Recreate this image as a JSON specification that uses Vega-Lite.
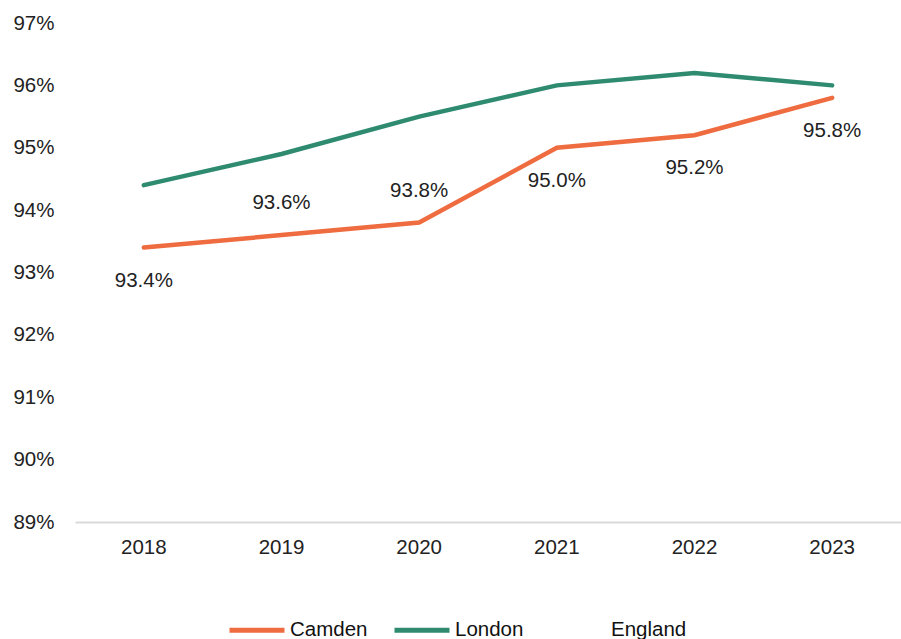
{
  "$schema": "https://vega.github.io/schema/vega-lite/v6.json",
  "width": 826,
  "height": 499,
  "autosize": {"type": "none"},
  "padding": {"left": 75, "top": 23, "right": 0, "bottom": 117},
  "background": "white",
  "config": {
    "view": {"stroke": null},
    "font": "Liberation Sans",
    "axis": {"labelFont": "Liberation Sans", "labelFontSize": 20.5, "labelColor": "#222222", "grid": false, "ticks": false, "title": null, "labelOverlap": false},
    "legend": {"labelFont": "Liberation Sans", "labelFontSize": 20.5, "labelColor": "#111111"}
  },
  "data": {
    "values": [
      {"year": "2018", "area": "Camden", "rate": 0.934},
      {"year": "2019", "area": "Camden", "rate": 0.936},
      {"year": "2020", "area": "Camden", "rate": 0.938},
      {"year": "2021", "area": "Camden", "rate": 0.950},
      {"year": "2022", "area": "Camden", "rate": 0.952},
      {"year": "2023", "area": "Camden", "rate": 0.958},
      {"year": "2018", "area": "London", "rate": 0.944},
      {"year": "2019", "area": "London", "rate": 0.949},
      {"year": "2020", "area": "London", "rate": 0.955},
      {"year": "2021", "area": "London", "rate": 0.960},
      {"year": "2022", "area": "London", "rate": 0.962},
      {"year": "2023", "area": "London", "rate": 0.960}
    ]
  },
  "encoding": {
    "x": {
      "field": "year", "type": "ordinal",
      "scale": {"type": "band", "paddingInner": 0, "paddingOuter": 0},
      "axis": {"labelAngle": 0, "domainColor": "#d9d9d9", "domainWidth": 2, "labelPadding": 15}
    },
    "y": {
      "field": "rate", "type": "quantitative",
      "scale": {"domain": [0.89, 0.97], "nice": false, "zero": false},
      "axis": {"format": ".0%", "values": [0.89, 0.90, 0.91, 0.92, 0.93, 0.94, 0.95, 0.96, 0.97], "domain": false, "labelPadding": 21}
    }
  },
  "layer": [
    {
      "mark": {"type": "line", "strokeWidth": 4.5, "strokeCap": "round"},
      "encoding": {
        "color": {
          "field": "area", "type": "nominal",
          "scale": {"domain": ["Camden", "London", "England"], "range": ["#EE6C3F", "#2E8B70", "#FFFFFF"]},
          "legend": {
            "title": null, "orient": "none", "direction": "horizontal",
            "legendX": 152, "legendY": 577,
            "symbolType": "stroke", "symbolSize": 3025, "symbolStrokeWidth": 5,
            "labelOffset": 3, "columnPadding": 16
          }
        }
      }
    },
    {
      "transform": [{"filter": "datum.area == 'Camden' && (datum.year == '2019' || datum.year == '2020')"}],
      "mark": {"type": "text", "dy": -32, "fontSize": 20.5, "color": "#222222"},
      "encoding": {"text": {"field": "rate", "type": "quantitative", "format": ".1%"}}
    },
    {
      "transform": [{"filter": "datum.area == 'Camden' && datum.year != '2019' && datum.year != '2020'"}],
      "mark": {"type": "text", "dy": 33, "fontSize": 20.5, "color": "#222222"},
      "encoding": {"text": {"field": "rate", "type": "quantitative", "format": ".1%"}}
    }
  ]
}
